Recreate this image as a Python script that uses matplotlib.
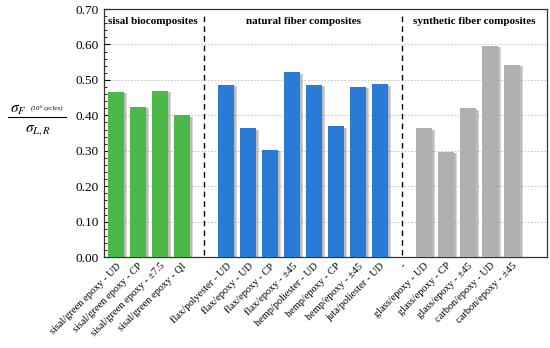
import matplotlib
matplotlib.use("Agg")
import matplotlib.pyplot as plt
import numpy as np
from matplotlib.ticker import MultipleLocator

labels = ["sisal/green epoxy - UD", "sisal/green epoxy - CP", "sisal/green epoxy - ±7.5",
          "sisal/green epoxy - QI", "",
          "flax/polyester - UD", "flax/epoxy - UD", "flax/epoxy - CP", "flax/epoxy - ±45",
          "hemp/poliester - UD", "hemp/epoxy - CP", "hemp/epoxy - ±45", "juta/poliester - UD",
          "-",
          "glass/epoxy - UD", "glass/epoxy - CP", "glass/epoxy - ±45", "carbon/epoxy - UD",
          "carbon/epoxy - ±45"]
values = [0.467, 0.425, 0.470, 0.400, np.nan,
          0.486, 0.364, 0.303, 0.522, 0.486, 0.369, 0.481, 0.488,
          np.nan,
          0.364, 0.298, 0.420, 0.597, 0.542]
group_of = ["sisal"] * 4 + [None] + ["natural"] * 8 + [None] + ["synthetic"] * 5
colors = {"sisal": "#4cb848", "natural": "#2a7bd6", "synthetic": "#b0b0b0"}
group_titles = ["sisal biocomposites", "natural fiber composites", "synthetic fiber composites"]
yticks = [0.0, 0.1, 0.2, 0.3, 0.4, 0.5, 0.6, 0.7]

serif = ["Liberation Serif", "DejaVu Serif"]
plt.rcParams["font.family"] = serif
plt.rcParams["mathtext.fontset"] = "stix"

fig = plt.figure(figsize=(5.5, 3.48), dpi=100)
ax = fig.add_axes([0.189, 0.261, 0.806, 0.713])

x = np.arange(len(labels))
w = 0.72
for xi, v, g in zip(x, values, group_of):
    if g is None or np.isnan(v):
        continue
    # soft shadow
    for k, a in ((0.16, 0.12), (0.12, 0.18), (0.08, 0.25)):
        ax.bar(xi + k, v - 0.004, width=w, color="#707070", alpha=a, zorder=2, linewidth=0)
    ax.bar(xi, v, width=w, color=colors[g], zorder=3, linewidth=0)

ax.set_xlim(-0.55, 19.6)
ax.set_ylim(0, 0.70)
ax.set_yticks(yticks)
ax.set_yticklabels([f"{t:.2f}" for t in yticks], fontsize=9.5)
ax.yaxis.set_minor_locator(MultipleLocator(0.02))
ax.tick_params(axis="y", which="major", direction="in", length=4, width=0.8)
ax.tick_params(axis="y", which="minor", direction="in", length=2, width=0.6)
ax.yaxis.grid(True, which="major", linestyle=(0, (2, 2)), color="#bbbbbb", linewidth=0.6, zorder=0)
ax.set_axisbelow(True)

ax.set_xticks(x)
ax.set_xticklabels(labels, rotation=45, ha="right", rotation_mode="anchor", fontsize=7.5)
ax.tick_params(axis="x", length=0, pad=3)

for s in ax.spines.values():
    s.set_color("#333333")
    s.set_linewidth(0.9)

# separators
for sep in (4, 13):
    ax.plot([sep, sep], [0.005, 0.69], linestyle=(0, (4, 3)), color="black", linewidth=1.0, zorder=4)

ax.text(1.66, 0.664, group_titles[0], ha="center", va="center", fontsize=8, fontweight="bold")
ax.text(8.5, 0.664, group_titles[1], ha="center", va="center", fontsize=8, fontweight="bold")
ax.text(16.3, 0.664, group_titles[2], ha="center", va="center", fontsize=8, fontweight="bold")

fig.text(0.018, 0.676, r"$\sigma_F$", fontsize=11, ha="left", va="baseline")
fig.text(0.056, 0.684, "(10", fontsize=5, style="italic", ha="left", va="baseline")
fig.text(0.073, 0.690, "6", fontsize=3.5, style="italic", ha="left", va="baseline")
fig.text(0.079, 0.684, "cycles)", fontsize=5, style="italic", ha="left", va="baseline")
fig.add_artist(plt.Line2D([0.015, 0.120], [0.664, 0.664], color="black", linewidth=0.8))
fig.text(0.069, 0.622, r"$\sigma_{L,R}$", fontsize=11, ha="center", va="baseline")

fig.savefig("out.png", dpi=100)
